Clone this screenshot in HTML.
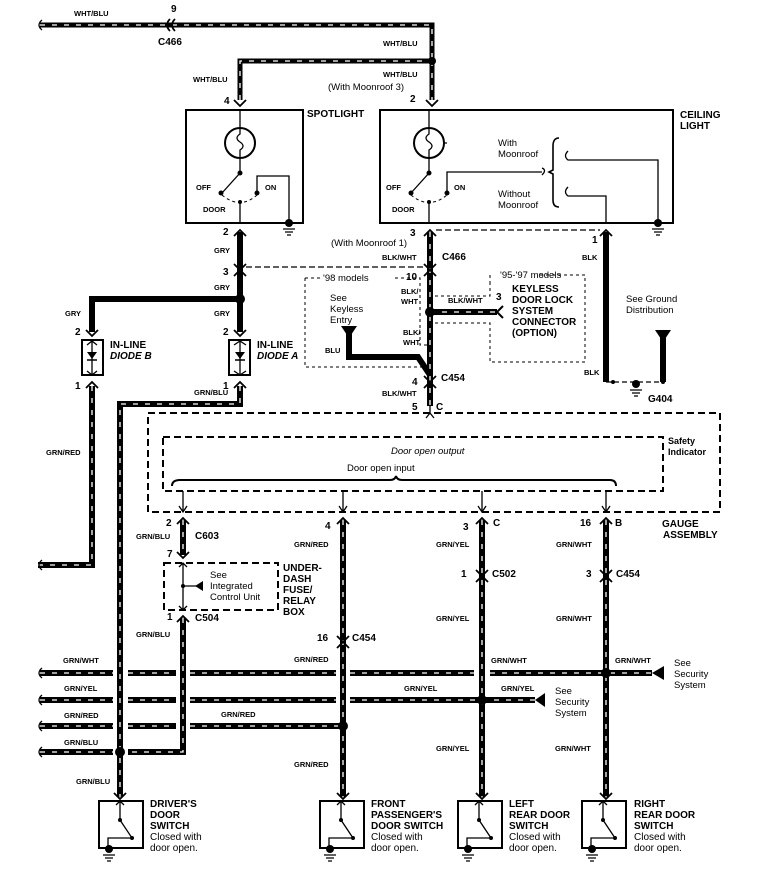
<!DOCTYPE html>
<html><head><meta charset="utf-8"><style>
html,body{margin:0;padding:0;background:#fff}
svg{display:block}
text{font-family:"Liberation Sans",Arial,sans-serif;fill:#000}
.l{font-size:7.5px;font-weight:bold}
.c{font-size:10px;font-weight:bold}
.n{font-size:10px}
.p{font-size:10px;font-weight:bold}
.w{fill:none;stroke:#000;stroke-width:6}
.s{fill:none;stroke:#fff;stroke-width:1.3;stroke-dasharray:5 7}
.t{fill:none;stroke:#000;stroke-width:1.3}
.d{fill:none;stroke:#000;stroke-width:2;stroke-dasharray:7 4}
.o{fill:none;stroke:#000;stroke-width:1;stroke-dasharray:3 3}
</style></head><body>
<svg width="758" height="886" viewBox="0 0 758 886" xmlns="http://www.w3.org/2000/svg">
<g>
<path class="w" style="stroke-width:5" d="M40 25 H432 V61"/><path class="s" d="M40 25 H432 V61"/>
<path class="w" style="stroke-width:5" d="M432 61 V100"/><path class="s" d="M432 61 V100"/>
<path class="w" style="stroke-width:5" d="M240 100 V61 H432"/><path class="s" d="M240 100 V61 H432"/>
<path class="w" d="M240 386 V404 H120 V797"/><path class="s" d="M240 386 V404 H120 V797"/>
<path class="w" d="M92 386 V565 H38"/><path class="s" d="M92 386 V565 H38"/>
<path class="w" d="M430 232 V406"/><path class="s" d="M430 232 V406"/>
<path class="w" d="M430 312 H497"/><path class="s" d="M430 312 H497"/>
<path class="w" d="M183 520 V555"/><path class="s" d="M183 520 V555"/>
<path class="w" d="M183 618 V752 H128"/><path class="s" d="M183 618 V752 H128"/>
<path class="w" d="M343 520 V797"/><path class="s" d="M343 520 V797"/>
<path class="w" d="M482 520 V797"/><path class="s" d="M482 520 V797"/>
<path class="w" d="M606 520 V797"/><path class="s" d="M606 520 V797"/>
<path class="w" d="M40 673 H113 M128 673 H176 M190 673 H336 M350 673 H474 M490 673 H652"/><path class="s" d="M40 673 H113 M128 673 H176 M190 673 H336 M350 673 H474 M490 673 H652"/>
<path class="w" d="M40 700 H113 M128 700 H176 M190 700 H336 M350 700 H535"/><path class="s" d="M40 700 H113 M128 700 H176 M190 700 H336 M350 700 H535"/>
<path class="w" d="M40 726 H113 M128 726 H176 M190 726 H343"/><path class="s" d="M40 726 H113 M128 726 H176 M190 726 H343"/>
<path class="w" d="M40 752 H113"/><path class="s" d="M40 752 H113"/>
</g>
<path class="w" d="M240 232 V332 M240 299 H92 V332"/>
<path class="w" d="M349 332 V357 H418 L430 375"/>
<path class="w" d="M606 232 V382"/>
<path class="w" d="M663 335 V382"/>
<path class="t" style="stroke-dasharray:5 3" d="M606 382 H663"/>
<path class="t" d="M42 20 Q36 25 42 30 M42 668 Q36 673 42 678 M42 695 Q36 700 42 705 M42 721 Q36 726 42 731 M42 747 Q36 752 42 757 M42 560 Q36 565 42 570"/>
<polygon points="652,673 664,666 664,680"/><polygon points="535,700 545,693 545,707"/>
<polygon points="341,326 357,326 349,338"/><polygon points="655,330 671,330 663,342"/>
<path d="M497 312 L503 306 M497 312 L503 318" class="t" style="stroke-width:2"/>
<path class="t" style="stroke-width:1.8" d="M170 19 Q164 25 170 31 M175 19 Q169 25 175 31"/>
<g fill="#000"><circle cx="432" cy="61" r="4"/><circle cx="240" cy="299" r="5"/><circle cx="430" cy="312" r="5"/>
<circle cx="120" cy="752" r="5"/><circle cx="343" cy="726" r="5"/><circle cx="482" cy="700" r="5"/><circle cx="606" cy="673" r="5"/>
<circle cx="613" cy="382" r="2"/><circle cx="663" cy="382" r="2"/><circle cx="636" cy="384" r="4"/></g>
<path class="t" d="M630 390 H642 M632 393 H640 M634 396 H638"/>
<g class="t" style="stroke-width:1.8">
<path d="M234 100 L240 106 L246 100 M426 100 L432 106 L438 100"/>
<path d="M234 236 L240 230 L246 236 M234 264 L240 270 L246 264 M234 276 L240 270 L246 276"/>
<path d="M234 330 L240 336 L246 330 M86 330 L92 336 L98 330 M234 388 L240 382 L246 388 M86 388 L92 382 L98 388"/>
<path d="M424 236 L430 230 L436 236 M424 264 L430 270 L436 264 M424 276 L430 270 L436 276"/>
<path d="M424 376 L430 382 L436 376 M424 388 L430 382 L436 388 M600 236 L606 230 L612 236"/>
<path d="M177 524 L183 518 L189 524 M337 524 L343 518 L349 524 M476 524 L482 518 L488 524 M600 524 L606 518 L612 524"/>
<path d="M177 552 L183 558 L189 552 M177 622 L183 616 L189 622 M337 636 L343 642 L349 636 M337 648 L343 642 L349 648"/>
<path d="M476 570 L482 576 L488 570 M476 582 L482 576 L488 582 M600 570 L606 576 L612 570 M600 582 L606 576 L612 582"/>
<path d="M114 793 L120 799 L126 793 M337 793 L343 799 L349 793 M476 793 L482 799 L488 793 M600 793 L606 799 L612 793"/>
</g>
<rect x="186" y="110" width="117" height="113" fill="none" stroke="#000" stroke-width="2"/>
<circle cx="240" cy="143" r="15" class="t" style="stroke-width:2"/>
<path class="t" d="M240 110 V128 M240 158 V173 L222 193 M240 202 V223 M257 193 V176 H289 V223 M240 128 V134 Q234 138 240 142 Q246 146 240 150 V158"/>
<path class="o" d="M222 195 Q240 210 257 195"/>
<g fill="#000"><circle cx="240" cy="173" r="2.5"/><circle cx="221" cy="193" r="2.5"/><circle cx="257" cy="193" r="2.5"/><circle cx="240" cy="202" r="2"/><circle cx="289" cy="223" r="4"/></g>
<path class="t" d="M283 229 H295 M285 232 H293 M287 235 H291"/>
<rect x="380" y="110" width="293" height="113" fill="none" stroke="#000" stroke-width="2"/>
<circle cx="429" cy="143" r="15" class="t" style="stroke-width:2"/>
<path class="t" d="M429 110 V128 M429 158 V173 L411 193 M429 202 V223 M447 193 V172 H542 M429 128 V134 Q423 138 429 142 Q435 146 429 150 V158 M444 143 H447"/>
<path class="t" d="M542 168 Q547 170 542 175 M568 151 Q563 156 568 160 H658 V223 M568 187 Q563 192 568 196 H606 V223"/>
<path class="t" style="stroke-width:1.6" d="M559 138 Q553 138 553 146 V170 L549 172 L553 174 V200 Q553 207 559 207"/>
<path class="o" d="M411 195 Q429 210 447 195"/>
<g fill="#000"><circle cx="429" cy="173" r="2.5"/><circle cx="411" cy="193" r="2.5"/><circle cx="447" cy="193" r="2.5"/><circle cx="429" cy="202" r="2"/><circle cx="658" cy="223" r="4"/></g>
<path class="t" d="M652 229 H664 M654 232 H662 M656 235 H660"/>
<path class="t" style="stroke-dasharray:6 3" d="M246 267 H425 M436 230 H600"/>
<path class="o" d="M305 278 V367 H422 M305 278 H320 M395 278 H420 V345 H428"/>
<path class="o" d="M490 275 V283 M435 296 H490 V283 M435 323 H490 V362 H585 V275 M540 275 H585"/>
<g class="t" style="stroke-width:2"><rect x="82" y="340" width="21" height="35"/><rect x="229" y="340" width="21" height="35"/></g>
<path class="t" d="M92 340 V375 M240 340 V375 M87 345 L92 341 L97 345 M234 345 L240 341 L246 345 M87 371 L92 375 L97 371 M234 371 L240 375 L246 371"/>
<polygon points="87,352 97,352 92,359"/><polygon points="235,352 245,352 240,359"/>
<path class="t" style="stroke-width:1.5" d="M87 360 H97 M235 360 H245"/>
<rect x="148" y="413" width="572" height="99" class="d"/>
<rect x="163" y="437" width="500" height="54" class="d"/>
<path class="t" d="M430 405 V413 M426 418 L430 413 L434 418"/>
<path class="t" style="stroke-width:2" d="M172 486 Q172 480 180 480 H390 Q395 480 396 476 Q397 480 402 480 H610 Q616 480 616 486"/>
<path class="t" d="M183 491 V512 M343 491 V512 M482 491 V512 M606 491 V512 M179 506 L183 512 L187 506 M339 506 L343 512 L347 506 M478 506 L482 512 L486 506 M602 506 L606 512 L610 506"/>
<rect x="164" y="563" width="114" height="47" class="d"/>
<path class="t" d="M183 563 V610 M183 586 H198 M179 567 L183 563 L187 567 M179 606 L183 610 L187 606"/>
<polygon points="195,586 203,581 203,591"/><circle cx="183" cy="586" r="2"/>
<g class="t" style="stroke-width:2"><rect x="99" y="801" width="44" height="47"/><rect x="320" y="801" width="44" height="47"/><rect x="458" y="801" width="44" height="47"/><rect x="582" y="801" width="44" height="47"/></g>
<g class="t">
<path d="M120 801 V820 L132 838 M108 848 V838 H130 M116 805 L120 801 L124 805"/>
<path d="M341 801 V820 L353 838 M329 848 V838 H351 M337 805 L341 801 L345 805"/>
<path d="M479 801 V820 L491 838 M467 848 V838 H489 M475 805 L479 801 L483 805"/>
<path d="M603 801 V820 L615 838 M591 848 V838 H613 M599 805 L603 801 L607 805"/>
<path d="M103 855 H115 M105 858 H113 M107 861 H111 M324 855 H336 M326 858 H334 M328 861 H332 M462 855 H474 M464 858 H472 M466 861 H470 M586 855 H598 M588 858 H596 M590 861 H594"/>
</g>
<g fill="#000"><circle cx="109" cy="849" r="4"/><circle cx="330" cy="849" r="4"/><circle cx="468" cy="849" r="4"/><circle cx="592" cy="849" r="4"/>
<circle cx="132" cy="838" r="2"/><circle cx="353" cy="838" r="2"/><circle cx="491" cy="838" r="2"/><circle cx="615" cy="838" r="2"/>
<circle cx="120" cy="820" r="2"/><circle cx="341" cy="820" r="2"/><circle cx="479" cy="820" r="2"/><circle cx="603" cy="820" r="2"/></g>
<g class="l">
<text x="74" y="16">WHT/BLU</text><text x="193" y="82">WHT/BLU</text><text x="383" y="46">WHT/BLU</text><text x="383" y="77">WHT/BLU</text>
<text x="214" y="253">GRY</text><text x="214" y="290">GRY</text><text x="214" y="316">GRY</text><text x="65" y="316">GRY</text>
<text x="194" y="395">GRN/BLU</text><text x="46" y="455">GRN/RED</text>
<text x="382" y="260">BLK/WHT</text><text x="401" y="294">BLK/</text><text x="401" y="304">WHT</text><text x="448" y="303">BLK/WHT</text>
<text x="403" y="335">BLK/</text><text x="403" y="345">WHT</text><text x="325" y="353">BLU</text><text x="382" y="396">BLK/WHT</text>
<text x="582" y="260">BLK</text><text x="584" y="375">BLK</text>
<text x="136" y="539">GRN/BLU</text><text x="136" y="637">GRN/BLU</text><text x="294" y="547">GRN/RED</text><text x="294" y="662">GRN/RED</text>
<text x="221" y="717">GRN/RED</text><text x="294" y="767">GRN/RED</text><text x="76" y="784">GRN/BLU</text>
<text x="63" y="663">GRN/WHT</text><text x="64" y="691">GRN/YEL</text><text x="64" y="718">GRN/RED</text><text x="64" y="745">GRN/BLU</text>
<text x="436" y="547">GRN/YEL</text><text x="436" y="621">GRN/YEL</text><text x="491" y="663">GRN/WHT</text><text x="404" y="691">GRN/YEL</text><text x="501" y="691">GRN/YEL</text><text x="436" y="751">GRN/YEL</text>
<text x="556" y="547">GRN/WHT</text><text x="556" y="621">GRN/WHT</text><text x="615" y="663">GRN/WHT</text><text x="555" y="751">GRN/WHT</text>
</g>
<g class="p">
<text x="171" y="12">9</text><text x="224" y="104">4</text><text x="410" y="102">2</text><text x="223" y="235">2</text><text x="223" y="275">3</text>
<text x="223" y="335">2</text><text x="75" y="335">2</text><text x="223" y="389">1</text><text x="75" y="389">1</text>
<text x="410" y="236">3</text><text x="406" y="280">10</text><text x="496" y="300">3</text><text x="592" y="243">1</text><text x="412" y="385">4</text><text x="412" y="410">5</text><text x="436" y="410">C</text>
<text x="166" y="526">2</text><text x="167" y="557">7</text><text x="167" y="620">1</text><text x="325" y="529">4</text><text x="317" y="641">16</text>
<text x="463" y="530">3</text><text x="493" y="526">C</text><text x="461" y="577">1</text><text x="580" y="526">16</text><text x="615" y="526">B</text><text x="586" y="577">3</text>
</g>
<g class="c">
<text x="158" y="45">C466</text><text x="442" y="260">C466</text><text x="441" y="381">C454</text><text x="648" y="402">G404</text>
<text x="195" y="539">C603</text><text x="195" y="621">C504</text><text x="352" y="641">C454</text><text x="492" y="577">C502</text><text x="616" y="577">C454</text>
<text x="307" y="117">SPOTLIGHT</text><text x="680" y="118">CEILING</text><text x="680" y="129">LIGHT</text>
<text x="110" y="348">IN-LINE</text><text x="110" y="359" font-style="italic">DIODE B</text><text x="257" y="348">IN-LINE</text><text x="257" y="359" font-style="italic">DIODE A</text>
<text x="512" y="292">KEYLESS</text><text x="512" y="303">DOOR LOCK</text><text x="512" y="314">SYSTEM</text><text x="512" y="325">CONNECTOR</text><text x="512" y="336">(OPTION)</text>
<text x="662" y="527">GAUGE</text><text x="663" y="538">ASSEMBLY</text>
<text x="283" y="571">UNDER-</text><text x="283" y="582">DASH</text><text x="283" y="593">FUSE/</text><text x="283" y="604">RELAY</text><text x="283" y="615">BOX</text>
<text x="150" y="807">DRIVER'S</text><text x="150" y="818">DOOR</text><text x="150" y="829">SWITCH</text>
<text x="371" y="807">FRONT</text><text x="371" y="818">PASSENGER'S</text><text x="371" y="829">DOOR SWITCH</text>
<text x="509" y="807">LEFT</text><text x="509" y="818">REAR DOOR</text><text x="509" y="829">SWITCH</text>
<text x="634" y="807">RIGHT</text><text x="634" y="818">REAR DOOR</text><text x="634" y="829">SWITCH</text>
<text x="668" y="444" font-size="9">Safety</text><text x="668" y="455" font-size="9">Indicator</text>
</g>
<g class="n">
<text x="150" y="840">Closed with</text><text x="150" y="851">door open.</text>
<text x="371" y="840">Closed with</text><text x="371" y="851">door open.</text>
<text x="509" y="840">Closed with</text><text x="509" y="851">door open.</text>
<text x="634" y="840">Closed with</text><text x="634" y="851">door open.</text>
<text x="328" y="90" font-size="9.5">(With Moonroof 3)</text><text x="331" y="246" font-size="9.5">(With Moonroof 1)</text>
<text x="498" y="146" font-size="9.5">With</text><text x="498" y="157" font-size="9.5">Moonroof</text>
<text x="498" y="197" font-size="9.5">Without</text><text x="498" y="208" font-size="9.5">Moonroof</text>
<text x="323" y="281" font-size="9.5">'98 models</text><text x="330" y="301" font-size="9.5">See</text><text x="330" y="312" font-size="9.5">Keyless</text><text x="330" y="323" font-size="9.5">Entry</text>
<text x="500" y="278" font-size="9.5">'95-'97 models</text>
<text x="626" y="302" font-size="9.5">See Ground</text><text x="626" y="313" font-size="9.5">Distribution</text>
<text x="391" y="454" font-size="9.5" font-style="italic">Door open output</text><text x="347" y="471" font-size="9.5">Door open input</text>
<text x="210" y="578" font-size="9.5">See</text><text x="210" y="589" font-size="9.5">Integrated</text><text x="210" y="600" font-size="9.5">Control Unit</text>
<text x="674" y="666" font-size="9.5">See</text><text x="674" y="677" font-size="9.5">Security</text><text x="674" y="688" font-size="9.5">System</text>
<text x="555" y="694" font-size="9.5">See</text><text x="555" y="705" font-size="9.5">Security</text><text x="555" y="716" font-size="9.5">System</text>
</g>
<g class="l"><text x="196" y="190">OFF</text><text x="265" y="190">ON</text><text x="203" y="212">DOOR</text>
<text x="386" y="190">OFF</text><text x="454" y="190">ON</text><text x="392" y="212">DOOR</text></g>
</svg>
</body></html>
